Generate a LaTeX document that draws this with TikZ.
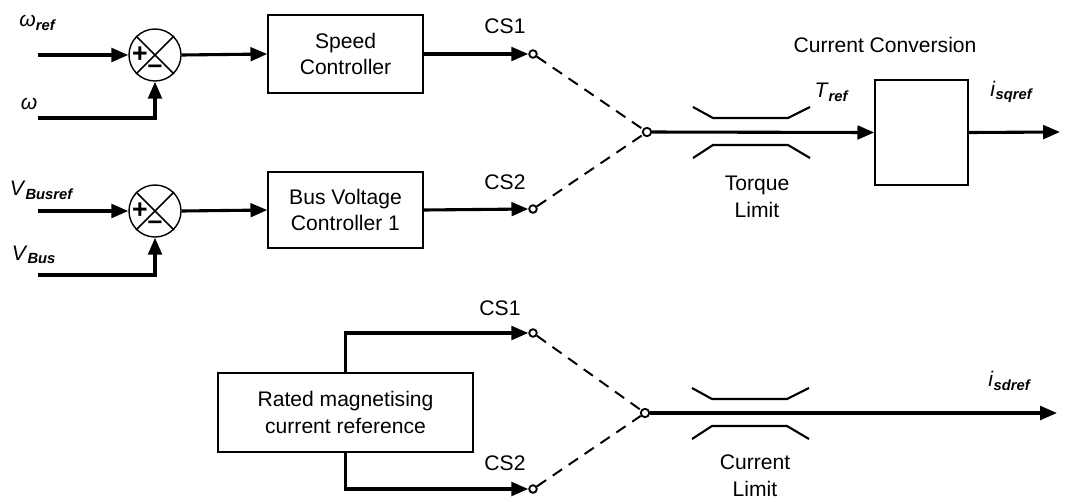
\documentclass[tikz,border=0pt]{standalone}
\usepackage{fontspec}
\setmainfont{Liberation Sans}
\usetikzlibrary{calc,arrows.meta,positioning}

\newcommand{\sublbl}[2]{\textit{#1}\textsubscript{\textit{\bfseries #2}}}

\begin{document}
\begin{tikzpicture}[x=0.025cm, y=-0.025cm, >={Triangle[length=4.2mm, width=3.4mm]},
  every node/.style={font=\fontsize{15}{19}\selectfont},
  blk/.style={draw, line width=1pt, align=center, inner sep=0pt},
  summer/.style={draw, circle, line width=1pt, minimum size=1.3cm, inner sep=0pt},
  sign/.style={font=\fontsize{19}{19}\selectfont\bfseries, inner sep=0pt},
  contact/.style={draw, circle, line width=1.3pt, minimum size=1.9mm, inner sep=0pt},
  hub/.style={draw, circle, line width=1.3pt, minimum size=2.1mm, inner sep=0pt},
  sigline/.style={line width=2.2pt},
  cmd/.style={line width=1.4pt, dash pattern=on 2.8mm off 2mm},
  limline/.style={line width=1.5pt}]

  \useasboundingbox (0,0) rectangle (1067,501);

  % ===== Speed loop (top) =====
  \node[summer] (sumw) at (155,55) {};
  \draw[line width=1.2pt] (sumw.north west) -- (sumw.south east)
                          (sumw.north east) -- (sumw.south west);
  \node[sign] at ([xshift=-15*0.025cm]sumw.center) {+};
  \node[sign] at ([yshift=-14*0.025cm]sumw.center) {–};

  \coordinate (wref) at (38,55);
  \coordinate (wact) at (38,118);
  \node (lwref) at (38,23) {\sublbl{ω}{ref}};
  \node (lwact) at (29,104) {\textit{ω}};

  \node[blk, minimum width=3.875cm, minimum height=1.95cm] (spdctl) at (345.5,54) {Speed\\Controller};
  \node[contact] (swa) at (533,54) {};
  \node (lswa) at (505,26) {CS1};

  \draw[sigline,->] (wref) -- (sumw.west);
  \draw[sigline,->] (wact) -| (sumw.south);
  \draw[sigline,->] (sumw.east) -- (spdctl.west);
  \draw[sigline,->] (spdctl.east) -- (swa.west);

  % ===== Bus voltage loop =====
  \node[summer] (sumv) at (155,211) {};
  \draw[line width=1.2pt] (sumv.north west) -- (sumv.south east)
                          (sumv.north east) -- (sumv.south west);
  \node[sign] at ([xshift=-15*0.025cm]sumv.center) {+};
  \node[sign] at ([yshift=-14*0.025cm]sumv.center) {–};

  \coordinate (vref) at (38,211);
  \coordinate (vact) at (38,275);
  \node (lvref) at (42,190) {\sublbl{V}{Busref}};
  \node (lvact) at (34,255) {\sublbl{V}{Bus}};

  \node[blk, minimum width=3.875cm, minimum height=1.9cm] (busctl) at (345.5,210) {Bus Voltage\\Controller 1};
  \node[contact] (swb) at (533,209) {};
  \node (lswb) at (505,182) {CS2};

  \draw[sigline,->] (vref) -- (sumv.west);
  \draw[sigline,->] (vact) -| (sumv.south);
  \draw[sigline,->] (sumv.east) -- (busctl.west);
  \draw[sigline,->] (busctl.east) -- (swb.west);

  % ===== Torque path =====
  \node[hub] (jtq) at (647,132) {};
  \draw[cmd] (swa) -- (jtq);
  \draw[cmd] (swb) -- (jtq);

  \coordinate (limtq) at (751,132);
  \node[blk, minimum width=2.325cm, minimum height=2.625cm] (conv) at (921.5,132.5) {};
  \node (lconv) at (885,45) {Current Conversion};
  \node (ltq) at (832,92) {\sublbl{T}{ref}};
  \node (lisq) at (1012,92) {\sublbl{i}{sqref}};
  \node[align=center] (ltqlim) at (757,197) {Torque\\Limit};
  \coordinate (outq) at (1060,132);

  \draw[sigline,->] (jtq) -- (conv.west);
  \draw[sigline,->] (conv.east) -- (outq);

  % ===== Magnetising current path (bottom) =====
  \node[blk, minimum width=6.375cm, minimum height=1.975cm] (rated) at (345.5,412.5) {Rated magnetising\\current reference};
  \node[contact] (swc) at (533,333) {};
  \node[contact] (swd) at (533,489) {};
  \node (lswc) at (500,308) {CS1};
  \node (lswd) at (505,463) {CS2};

  \draw[sigline,->] (rated.north) |- (swc.west);
  \draw[sigline,->] (rated.south) |- (swd.west);

  \node[hub] (jid) at (645,413) {};
  \draw[cmd] (swc) -- (jid);
  \draw[cmd] (swd) -- (jid);

  \coordinate (limid) at (750,413);
  \node (lisd) at (1010,381) {\sublbl{i}{sdref}};
  \node[align=center] (lidlim) at (755,476) {Current\\Limit};
  \coordinate (outd) at (1057,413);

  \draw[sigline,->] (jid) -- (outd);

  % Limiter symbols
  \foreach \c in {limtq,limid} {
    \draw[limline] ($(\c)+(-58,-25)$) -- ($(\c)+(-38,-14)$) -- ($(\c)+(37,-14)$) -- ($(\c)+(59,-25)$);
    \draw[limline] ($(\c)+(-58,26)$) -- ($(\c)+(-38,13)$) -- ($(\c)+(37,13)$) -- ($(\c)+(59,26)$);
  }

\end{tikzpicture}
\end{document}
